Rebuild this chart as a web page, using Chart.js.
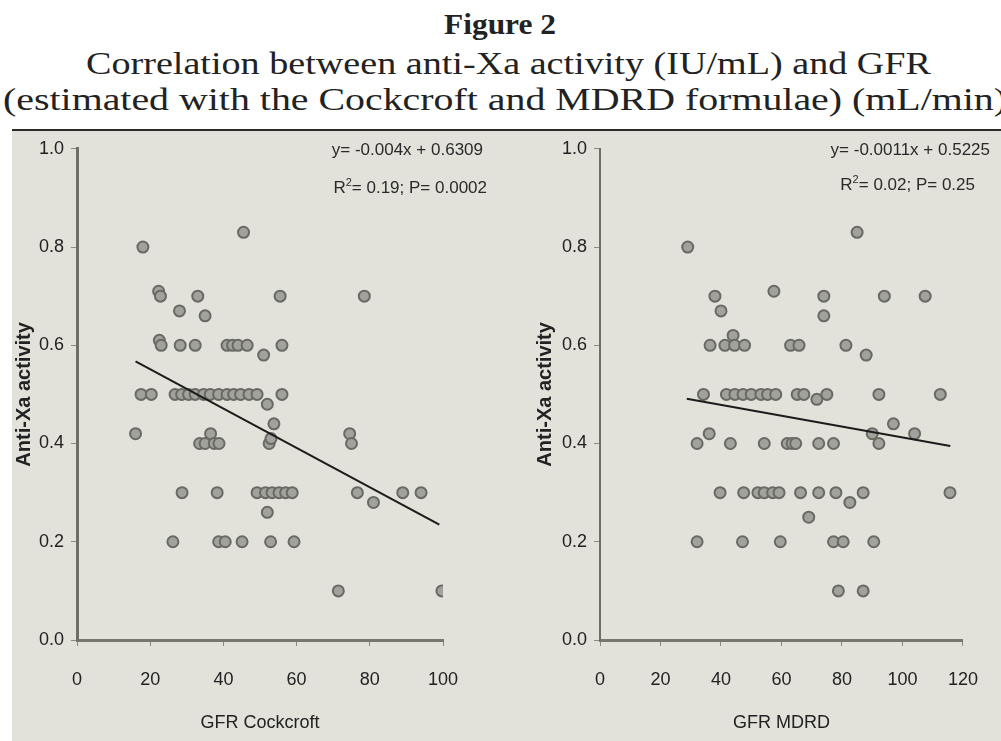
<!DOCTYPE html>
<html>
<head>
<meta charset="utf-8">
<script src="https://cdn.jsdelivr.net/npm/chart.js@4.4.0/dist/chart.umd.min.js"></script>
<style>
  body { margin: 0; width: 1001px; height: 741px; background: #fff; position: relative; overflow: hidden; }
  .ttl { position: absolute; left: 0; white-space: nowrap; font-family: "Liberation Serif", "Times New Roman", serif; color: #222; transform-origin: 0 0; }
  #panel { position: absolute; left: 12px; top: 129px; width: 989px; height: 612px; background: #e2e2da; border-top: 2px solid #2b2b2b; box-sizing: border-box; }
  .eq { position: absolute; white-space: nowrap; font-family: "Liberation Sans", Arial, sans-serif; font-size: 17px; color: #2a2a2a; text-align: right; }
  .eq sup { font-size: 11px; }
  canvas { position: absolute; }
</style>
</head>
<body>
<div class="ttl" id="t1" style="font-weight:bold;font-size:30px;top:7px;">Figure 2</div>
<div class="ttl" id="t2" style="font-size:32px;top:45px;">Correlation between anti-Xa activity (IU/mL) and GFR</div>
<div class="ttl" id="t3" style="font-size:32px;top:81px;">(estimated with the Cockcroft and MDRD formulae) (mL/min)</div>
<div id="panel"></div>
<div style="position:absolute;left:12px;top:131px;width:490px;height:610px;">
  <canvas id="leftChart" width="490" height="610" style="left:0;top:0"></canvas>
</div>
<div style="position:absolute;left:502px;top:131px;width:499px;height:610px;">
  <canvas id="rightChart" width="499" height="610" style="left:0;top:0"></canvas>
</div>
<div class="eq" style="right:518px;top:140px;">y= -0.004x + 0.6309</div>
<div class="eq" style="right:514px;top:176px;">R<sup>2</sup>= 0.19; P= 0.0002</div>
<div class="eq" style="right:11px;top:140px;">y= -0.0011x + 0.5225</div>
<div class="eq" style="right:26px;top:173px;">R<sup>2</sup>= 0.02; P= 0.25</div>
<script>
// stretch the title lines to the width they take in the figure
function fitTitle(id, left, width) {
    const el = document.getElementById(id);
    const w = el.getBoundingClientRect().width;
    el.style.left = left + 'px';
    el.style.transform = 'scaleX(' + (width / w) + ')';
}
fitTitle('t1', 444, 112);
fitTitle('t2', 86, 845);
fitTitle('t3', 3, 1004);

// GFR Cockcroft vs anti-Xa activity
const cockcroftX = [18, 45.5, 22.3, 22.8, 33, 28, 35, 55.5, 78.5,
    22.5, 23, 28.2, 32.3, 41, 42.5, 44, 46.5, 51, 56,
    17.5, 20.3, 26.8, 28.6, 30.5, 32.3, 34.6, 36.4, 38.7, 41, 42.8, 44.7, 47, 49.2, 52, 56,
    53.8, 16,
    33.5, 35, 36.5, 37.5, 38.8, 52.5, 53, 74.5, 75,
    28.7, 38.3, 49.2, 51.5, 53.3, 55.2, 57, 58.8, 76.6, 89, 94,
    81, 52,
    26.2, 38.7, 40.5, 45.1, 52.9, 59.3,
    71.4, 99.7];
const cockcroftY = [0.80, 0.83, 0.71, 0.70, 0.70, 0.67, 0.66, 0.70, 0.70,
    0.61, 0.60, 0.60, 0.60, 0.60, 0.60, 0.60, 0.60, 0.58, 0.60,
    0.50, 0.50, 0.50, 0.50, 0.50, 0.50, 0.50, 0.50, 0.50, 0.50, 0.50, 0.50, 0.50, 0.50, 0.48, 0.50,
    0.44, 0.42,
    0.40, 0.40, 0.42, 0.40, 0.40, 0.40, 0.41, 0.42, 0.40,
    0.30, 0.30, 0.30, 0.30, 0.30, 0.30, 0.30, 0.30, 0.30, 0.30, 0.30,
    0.28, 0.26,
    0.20, 0.20, 0.20, 0.20, 0.20, 0.20,
    0.10, 0.10];
const cockcroftFitX = [16, 99];
const cockcroftFitY = [0.567, 0.235];

// GFR MDRD vs anti-Xa activity
const mdrdX = [29, 85, 38, 40, 57.5, 74, 74, 94, 107.5,
    36.4, 41.3, 44, 44.5, 47.8, 63, 65.8, 81.3, 88,
    34.2, 41.8, 44.6, 47.3, 50, 53.2, 55.4, 58.1, 65.2, 67.4, 71.7, 75, 92.2, 112.5,
    97, 104, 90,
    32.1, 36.1, 43.1, 54.3, 61.9, 63.5, 64.7, 72.3, 77.2, 92.2,
    39.7, 47.5, 52.2, 54.3, 57.1, 59.2, 66.3, 72.3, 78, 82.6, 87, 115.7,
    69,
    32.1, 47.1, 59.6, 77.2, 80.4, 90.5,
    78.8, 87];
const mdrdY = [0.80, 0.83, 0.70, 0.67, 0.71, 0.70, 0.66, 0.70, 0.70,
    0.60, 0.60, 0.62, 0.60, 0.60, 0.60, 0.60, 0.60, 0.58,
    0.50, 0.50, 0.50, 0.50, 0.50, 0.50, 0.50, 0.50, 0.50, 0.50, 0.49, 0.50, 0.50, 0.50,
    0.44, 0.42, 0.42,
    0.40, 0.42, 0.40, 0.40, 0.40, 0.40, 0.40, 0.40, 0.40, 0.40,
    0.30, 0.30, 0.30, 0.30, 0.30, 0.30, 0.30, 0.30, 0.30, 0.28, 0.30, 0.30,
    0.25,
    0.20, 0.20, 0.20, 0.20, 0.20, 0.20,
    0.10, 0.10];
const mdrdFitX = [28.7, 115.8];
const mdrdFitY = [0.491, 0.395];

const yTicks = [0, 0.2, 0.4, 0.6, 0.8, 1.0];

const sans = '"Liberation Sans", Arial, sans-serif';

function toPoints(xs, ys) {
    return xs.map((x, i) => ({ x: x, y: ys[i] }));
}

function makeChart(canvasId, xs, ys, fitX, fitY, xMax, xTitle, yWidth, yTitlePad, axisWidth, rightPad) {
    return new Chart(document.getElementById(canvasId), {
        type: 'scatter',
        data: {
            datasets: [
                {
                    type: 'line',
                    data: toPoints(fitX, fitY),
                    borderColor: '#1c1c1c',
                    borderWidth: 2,
                    pointRadius: 0,
                    fill: false,
                    order: 0,
                },
                {
                    data: toPoints(xs, ys),
                    backgroundColor: '#a2a29c',
                    borderColor: '#6a6a64',
                    borderWidth: 2,
                    pointRadius: 5.5,
                    order: 1,
                },
            ],
        },
        options: {
            responsive: false,
            animation: false,
            layout: { padding: { top: 9, right: rightPad, bottom: 0, left: 0 } },
            plugins: {
                legend: { display: false },
                tooltip: { enabled: false },
            },
            scales: {
                x: {
                    type: 'linear',
                    min: 0,
                    max: xMax,
                    afterFit: (scale) => { scale.height = 101; },
                    ticks: {
                        stepSize: 20,
                        padding: 23,
                        color: '#222',
                        font: { family: sans, size: 18 },
                    },
                    grid: { drawOnChartArea: false, tickLength: 6, color: '#8a8a82', lineWidth: 1 },
                    border: { color: '#77776e', width: 3 },
                    title: {
                        display: true,
                        text: xTitle,
                        color: '#222',
                        font: { family: sans, size: 18 },
                        padding: { top: 0, bottom: 7 },
                    },
                },
                y: {
                    type: 'linear',
                    min: 0,
                    max: 1,
                    afterFit: (scale) => { scale.width = yWidth; },
                    afterBuildTicks: (scale) => { scale.ticks = yTicks.map(v => ({ value: v })); },
                    ticks: {
                        padding: 7,
                        color: '#222',
                        font: { family: sans, size: 18 },
                        callback: (v) => v.toFixed(1),
                    },
                    grid: { drawOnChartArea: false, tickLength: 6, color: '#8a8a82', lineWidth: 1 },
                    border: { color: '#6e6e66', width: axisWidth },
                    title: {
                        display: true,
                        text: 'Anti-Xa activity',
                        color: '#222',
                        font: { family: sans, size: 20, weight: 'bold' },
                        padding: { top: yTitlePad, bottom: 0 },
                    },
                },
            },
        },
    });
}

makeChart('leftChart', cockcroftX, cockcroftY, cockcroftFitX, cockcroftFitY, 100, 'GFR Cockcroft', 65, 0, 3, 59);
makeChart('rightChart', mdrdX, mdrdY, mdrdFitX, mdrdFitY, 120, 'GFR MDRD', 98, 31, 2, 33);
</script>
</body>
</html>
